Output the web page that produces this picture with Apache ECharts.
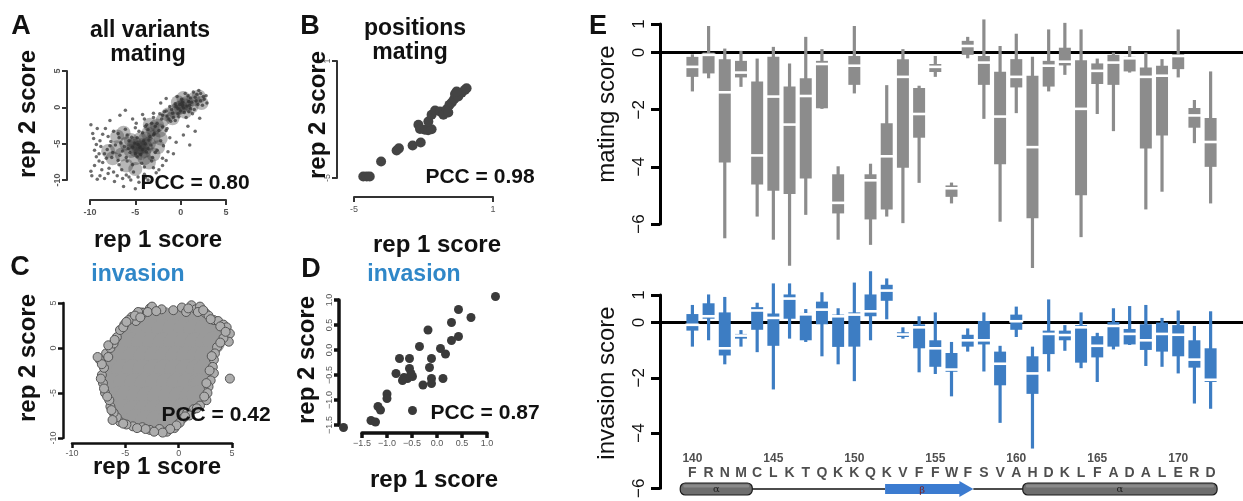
<!DOCTYPE html>
<html>
<head>
<meta charset="utf-8">
<script src="https://cdn.jsdelivr.net/npm/echarts@6/dist/echarts.min.js"></script>
<style>
html,body{margin:0;padding:0;background:#fff}
#chart{width:1243px;height:501px}
</style>
</head>
<body>
<div id="chart"></div>
<script>
var FONT = '"Liberation Sans", Arial, Helvetica, sans-serif';
var BLUE = '#3d7dc3';
var GREY = '#8c8c8c';

// panel A: all variants, mating (rep1, rep2)
var aHaze = [[0,0],[0.7,0.6],[-0.7,-0.5],[1.4,1.1],[-1.4,-1.0],[0.5,-0.6],[-0.3,0.7],[2.0,1.5],[1.2,0.1],[-2.0,-1.8],[-0.9,-1.5],[0.3,1.3],[2.3,0.6],
  [-2.6,-2.5],[-3.1,-3.0],[-2.3,-3.2],[-3.6,-3.6],[-3.9,-4.3],[-3.0,-4.1],[-3.4,-2.4],
  [-4.5,-5.5],[-5.0,-5.0],[-4.0,-6.0],[-5.5,-6.0],[-3.5,-5.0],[-6.0,-5.0],[-5.0,-7.0],[-4.0,-7.0],[-6.5,-6.5],[-7.0,-5.5],[-3.0,-6.5],[-5.5,-4.5],[-4.5,-4.4],[-7.5,-7.0],[-6.0,-8.0],[-8.0,-6.0],[-3.5,-7.6],[-2.5,-5.5],[-5.0,-8.5],[-7.0,-4.0],[-2.2,-4.3],[-6.3,-3.5],
  [-4.6,-5.6],[-4.9,-5.9],[-4.2,-5.2],[-5.2,-5.3],[-4.4,-6.3],[-3.8,-5.5],[-0.2,-0.1],[0.4,0.3]];
var aPoints = [[0.2,0.3],[0.9,0.8],[1.6,1.4],[2.2,1.9],[2.6,1.1],[1.9,0.4],[1.1,-0.2],[0.4,-0.7],[-0.3,-0.2],[-0.9,-0.8],[-1.5,-1.2],[-2.1,-1.6],[-0.6,0.5],[0.1,1.1],[0.8,1.6],[1.4,2.1],[2.0,2.3],[2.8,1.6],[2.4,0.3],[1.3,-0.9],[0.6,-1.4],[-0.2,-1.3],[-1.1,-1.9],[-1.8,-0.6],[-1.2,0.1],[-0.4,1.5],[0.5,1.9],[1.7,0.9],[2.9,0.6],[0.0,-0.5],[-2.6,-2.2],[-2.3,-0.9],[1.0,0.3],[-0.8,-1.4],
  [0.3,-0.1],[-0.5,0.1],[0.7,0.2],[1.2,0.7],[1.8,1.8],[2.5,1.5],[0.2,0.7],[-0.1,0.4],[-1.0,-0.3],[-1.6,-0.5],[1.5,-0.3],[0.9,-0.6],[-0.3,-0.9],[2.2,0.9],[1.1,1.3],[-2.0,-1.1],[-1.3,-1.6],[-0.6,-1.8],
  [-2.8,-2.6],[-3.2,-2.2],[-3.6,-3.1],[-2.9,-3.6],[-2.4,-3.2],[-3.9,-2.6],[-3.4,-4.0],[-4.2,-3.5],[-2.0,-2.7],[-4.0,-1.6],[-3.0,-1.4],[-1.6,-3.2],
  [-4.5,-5.5],[-5.1,-4.9],[-3.8,-6.1],[-5.6,-6.2],[-4.1,-4.6],[-4.8,-6.8],[-6.2,-5.4],[-5.4,-4.1],[-3.3,-5.2],[-6.7,-6.6],[-7.2,-5.2],[-5.9,-7.4],[-4.3,-7.7],[-3.1,-6.9],[-2.6,-5.9],[-2.2,-4.6],[-6.8,-4.2],[-7.6,-6.9],[-8.1,-5.8],[-8.6,-7.6],[-7.9,-8.4],[-6.5,-8.6],[-5.2,-8.9],[-4.0,-9.2],[-9.0,-6.4],[-9.5,-8.0],[-9.8,-9.4],[-8.9,-4.6],[-9.7,-3.6],[-7.4,-3.3],[-6.1,-3.0],[-5.0,-2.8],[-9.9,-2.4],[-8.3,-2.9],[-7.0,-9.4],[-3.0,-8.3],[-2.0,-7.0],[-1.4,-6.1],[-0.8,-6.4],[-1.2,-4.2],[-5.7,-9.6],[-4.6,-10.3],[-6.3,-10.9],[-5.0,-11.2],[-8.4,-9.8],[-9.9,-8.8],[-3.6,-10.0],
  [-4.7,-5.1],[-4.2,-5.8],[-5.3,-5.5],[-3.9,-5.0],[-5.0,-6.4],[-4.4,-6.5],[-5.8,-5.7],[-3.6,-5.7],[-6.4,-6.0],[-5.7,-4.6],[-4.8,-4.2],[-3.5,-4.5],[-6.9,-7.3],[-7.5,-6.2],[-8.2,-7.0],[-6.0,-6.9],[-4.0,-8.2],[-5.3,-7.9],[-6.8,-7.9],[-3.2,-7.4],[-2.8,-6.2],[-7.7,-4.7],[-8.8,-5.4],[-9.3,-6.8],[-9.6,-4.3],[-8.0,-9.1],[-6.0,-9.3],[-4.7,-9.6],[-2.4,-8.6],[-1.9,-5.3],[-5.9,-3.8],[-6.6,-4.9],[-3.0,-3.8],[-4.6,-3.3],[-9.2,-9.9],[-7.3,-10.2],
  [-8.6,-3.7],[-9.3,-5.1],[-8.4,-6.4],[-9.0,-7.4],[-8.7,-8.6],[-7.4,-8.9],[-6.4,-9.8],[-7.8,-5.3],[-9.5,-5.9],[-8.9,-9.4],[-5.5,-10.0],[-3.9,-9.7],[-2.7,-9.0],[-2.0,-8.0],[-1.6,-7.3],[-6.9,-3.6],[-8.0,-4.0],[-9.2,-2.9],
  [-6.1,-0.4],[-6.7,-1.1],[-4.9,-2.2],[-3.75,-2.4],[0.3,-3.8],[1.6,-3.3],[2.1,-1.5],[-1.5,-2.9],[-3.0,-0.8],[-4.2,-1.0],[-5.3,-1.6],[0.8,-2.6],[-0.5,-4.8],[1.0,-5.2],[-7.8,-1.8],[-2.2,0.6],[-1.6,1.2]];

// panel B: positions, mating
var bPoints = [[-4.6,-4.92],[-4.45,-4.92],[-4.32,-4.92],[-3.83,-4.15],[-3.16,-3.59],[-3.06,-3.48],[-2.47,-3.33],[-2.12,-3.18],[-2.22,-2.27],[-2.15,-2.49],[-1.94,-2.53],[-1.8,-2.55],[-1.65,-2.5],[-1.79,-2.1],[-1.65,-1.76],[-1.5,-1.54],[-1.29,-1.59],[-1.14,-1.76],[-1.0,-1.47],[-0.88,-1.25],[-0.78,-1.13],[-0.93,-1.64],[-0.68,-0.96],[-0.64,-0.69],[-0.5,-0.82],[-0.35,-0.62],[-0.21,-0.48],[-0.14,-0.4],[-0.57,-0.57]];

// panel C: all variants, invasion (outline circles + dense body)
var cEdge = [[-4.4,3.45],[-4.0,3.0],[-3.3,3.9],[-2.7,4.4],[-2.5,4.6],[-1.6,4.3],[-0.5,4.2],[0.3,4.5],[0.7,4.0],[1.2,4.75],[1.6,4.3],[2.0,4.6],[2.5,3.9],[2.8,3.6],[3.3,3.1],[3.7,3.0],[4.2,2.6],[4.5,2.3],[4.8,1.6],[4.7,0.7],[4.2,1.1],[3.6,0.1],[3.4,-0.6],[3.3,-1.3],[3.2,-2.1],[3.3,-2.8],[3.0,-3.6],[2.8,-4.3],[2.7,-5.0],[2.6,-5.8],[2.0,-6.4],[1.4,-6.8],[0.8,-7.2],[0.4,-7.8],[0.1,-8.3],[-0.4,-8.9],[-1.1,-9.3],[-1.8,-9.0],[-2.7,-9.1],[-3.4,-8.8],[-4.3,-8.7],[-4.9,-8.5],[-5.5,-8.2],[-5.8,-7.7],[-6.1,-7.2],[-6.4,-6.5],[-6.5,-5.8],[-6.9,-5.0],[-7.1,-3.9],[-7.2,-3.0],[-7.0,-2.2],[-7.4,-1.3],[-6.8,-0.6],[-6.4,0.0],[-6.1,0.5],[-5.8,1.2],[-5.5,2.0],[-5.1,2.6],[-4.7,3.1],[4.8,-3.4],[-3.8,4.0],[1.0,-7.5],[-6.2,-8.0],
  [-4.1,3.6],[-3.6,3.4],[-2.9,4.0],[-2.1,4.1],[0.9,4.4],[1.8,4.0],[2.3,4.2],[3.0,3.2],[3.9,2.4],[4.4,1.8],[3.9,0.6],[3.1,-0.9],[2.9,-2.5],[2.6,-3.9],[2.4,-5.4],[1.7,-6.7],[0.6,-7.6],[-0.2,-8.6],[-0.8,-9.0],[-1.5,-9.4],[-2.3,-9.3],[-3.1,-9.0],[-3.9,-8.9],[-5.2,-8.4],[-6.3,-6.9],[-6.7,-5.4],[-7.0,-4.5],[-7.3,-3.4],[-7.2,-1.8],[-6.6,-1.0],[-6.6,0.3],[-6.0,0.9],[-5.2,2.3],[-4.9,2.9],[-7.6,-1.0]];
var cFill = [[-3.5,3.3],[-2.5,3.5],[-1.5,3.4],[-0.5,3.3],[0.5,3.4],[1.5,3.4],[2.3,3.0],
  [-4.3,2],[-3.5,2],[-2.5,2],[-1.5,2],[-0.5,2],[0.5,2],[1.5,2],[2.5,2],[3.4,1.8],
  [-5.2,0.5],[-4.4,0.5],[-3.4,0.5],[-2.4,0.5],[-1.4,0.5],[-0.4,0.5],[0.6,0.5],[1.6,0.5],[2.6,0.5],[3.3,0.6],
  [-6.0,-1],[-5.2,-1],[-4.2,-1],[-3.2,-1],[-2.2,-1],[-1.2,-1],[-0.2,-1],[0.8,-1],[1.8,-1],[2.5,-1],
  [-6.2,-2.5],[-5.3,-2.5],[-4.3,-2.5],[-3.3,-2.5],[-2.3,-2.5],[-1.3,-2.5],[-0.3,-2.5],[0.7,-2.5],[1.7,-2.5],[2.4,-2.5],
  [-6.0,-4],[-5.1,-4],[-4.1,-4],[-3.1,-4],[-2.1,-4],[-1.1,-4],[-0.1,-4],[0.9,-4],[1.9,-4],[2.1,-4.2],
  [-5.7,-5.5],[-4.9,-5.5],[-3.9,-5.5],[-2.9,-5.5],[-1.9,-5.5],[-0.9,-5.5],[0.1,-5.5],[1.1,-5.5],[1.8,-5.4],
  [-5.1,-6.9],[-4.2,-7],[-3.2,-7],[-2.2,-7],[-1.2,-7],[-0.2,-7],[0.4,-6.8],
  [-4.0,-8.0],[-3.0,-8.1],[-2.0,-8.1],[-1.0,-8.0]];

// panel D: positions, invasion
var dPoints = [[1.17,1.07],[0.43,0.81],[0.68,0.65],[0.29,0.55],[0.43,0.27],[0.29,0.19],[-0.18,0.4],[-0.35,0.07],[0.07,0.03],[0.17,-0.08],[-0.75,-0.17],[-0.55,-0.17],[-0.11,-0.17],[-0.55,-0.37],[-0.15,-0.35],[-0.82,-0.47],[-0.66,-0.55],[-0.59,-0.57],[-0.49,-0.53],[-0.52,-0.47],[-0.69,-0.61],[-0.11,-0.57],[0.12,-0.57],[-0.11,-0.67],[-0.28,-0.7],[-1.0,-0.88],[-1.0,-0.97],[-1.18,-1.13],[-1.13,-1.2],[-0.49,-1.21],[-1.32,-1.41],[-1.23,-1.44],[-1.87,-1.55]];

// panel E: per position [min, q1, median, q3, max]
var positions = [140,141,142,143,144,145,146,147,148,149,150,151,152,153,154,155,156,157,158,159,160,161,162,163,164,165,166,167,168,169,170,171,172];
var residues = ['F','R','N','M','C','L','K','T','Q','K','K','Q','K','V','F','F','W','F','S','V','A','H','D','K','L','F','A','D','A','L','E','R','D'];
var residueTicks = [140,145,150,155,160,165,170];
var matingStats = [
  [-1.36,-0.85,-0.5,-0.15,-0.06],[-0.9,-0.73,-0.08,0.0,0.93],[-6.5,-3.85,-1.39,-0.23,0.14],[-1.2,-0.87,-0.7,-0.29,0.06],
  [-5.74,-4.62,-3.6,-1.01,-0.21],[-6.55,-4.84,-1.54,-0.15,0.2],[-7.46,-4.95,-2.52,-1.19,-0.38],[-5.68,-4.41,-1.52,-0.9,0.55],
  [-1.97,-1.95,-0.4,-0.29,0.12],[-6.55,-5.63,-5.26,-4.26,-3.98],[-1.43,-1.13,-0.46,-0.12,0.93],[-6.73,-5.84,-4.47,-4.26,-3.89],
  [-5.74,-5.49,-3.63,-2.47,-1.14],[-5.97,-4.03,-0.85,-0.23,0.12],[-4.56,-2.98,-2.15,-1.24,-1.16],[-0.85,-0.68,-0.5,-0.4,-0.12],
  [-5.28,-5.05,-4.75,-4.65,-4.55],[-0.2,-0.08,0.23,0.41,0.55],[-2.32,-1.13,-0.35,-0.12,1.16],[-5.92,-3.91,-2.24,-0.67,0.23],
  [-2.12,-1.22,-0.85,-0.23,0.66],[-7.54,-5.8,-3.31,-0.81,-0.15],[-1.36,-1.19,-0.46,-0.29,0.81],[-0.78,-0.45,-0.32,0.17,1.04],
  [-6.46,-4.99,-1.97,-0.27,0.81],[-2.15,-1.1,-0.64,-0.38,-0.21],[-2.75,-1.13,-0.35,-0.08,0.0],[-0.7,-0.66,-0.2,-0.15,0.23],
  [-5.49,-3.36,-0.85,-0.52,0.0],[-4.87,-2.9,-0.81,-0.46,-0.23],[-0.87,-0.58,-0.12,-0.05,0.81],[-3.17,-2.63,-2.2,-1.94,-1.66],
  [-5.28,-4.0,-3.13,-2.29,-0.66]];
var invasionStats = [
  [-0.87,-0.29,-0.08,0.31,0.64],[-0.64,0.14,0.23,0.7,1.02],[-1.51,-1.19,-0.93,0.37,0.93],[-0.87,-0.58,-0.47,-0.41,-0.27],
  [-1.07,-0.26,0.44,0.56,0.72],[-2.42,-0.84,0.17,0.33,1.42],[-0.58,0.14,0.87,1.02,1.42],[-0.7,-0.64,0.3,0.35,0.49],
  [-1.22,-0.06,0.47,0.76,1.1],[-1.51,-0.88,0.23,0.29,0.52],[-2.12,-0.87,0.29,0.37,1.45],[-0.64,0.23,0.41,1.02,1.86],
  [0.12,0.79,1.16,1.37,1.6],[-0.58,-0.52,-0.43,-0.35,-0.17],[-1.8,-0.93,-0.17,-0.06,0.23],[-1.86,-1.6,-0.93,-0.64,0.37],
  [-2.67,-1.78,-1.7,-1.1,-0.7],[-1.05,-0.87,-0.64,-0.44,-0.21],[-1.77,-0.79,-0.64,0.06,0.37],[-3.63,-2.27,-1.49,-1.05,-0.84],
  [-0.52,-0.26,0.05,0.29,0.58],[-4.56,-2.58,-1.84,-1.22,-0.87],[-1.77,-1.14,-0.41,-0.29,0.84],[-1.02,-0.64,-0.45,-0.29,-0.09],
  [-1.65,-1.45,-0.17,-0.09,0.37],[-2.15,-1.26,-0.84,-0.49,-0.37],[-0.97,-0.87,-0.12,0.02,0.52],[-0.81,-0.79,-0.41,-0.23,0.6],
  [-1.57,-0.99,-0.64,-0.06,0.64],[-1.6,-1.05,-0.41,0.0,0.17],[-1.84,-1.22,-0.44,-0.09,0.44],[-2.93,-1.63,-1.34,-0.64,-0.12],
  [-3.12,-2.15,-2.07,-0.93,0.41]];
// secondary structure [from, to, kind]
var ssSegments = [[143.7,151.9,'coil'],[157.35,160.4,'coil'],[139.25,143.7,'helix'],[151.9,157.35,'strand'],[160.4,172.4,'helix']];

var SEQ_NUM_ROW = 4.1, SEQ_RES_ROW = 2.7, SEQ_SS_ROW = 1.1;

function hy(v) { return String(v); }
function minus(v) { return String(v).replace('-', '\u2212'); }
function minus1(v) { return v.toFixed(1).replace('-', '\u2212'); }

function rAxis(grid, min, max, offset, ticks, o) {
  o = o || {};
  var col = o.color || '#333', lw = o.lw || 2;
  return {
    gridIndex: grid, type: 'value', min: min, max: max, offset: offset,
    axisLine: {onZero: false, lineStyle: {color: col, width: lw}},
    axisTick: {customValues: ticks, length: o.tick || 5, lineStyle: {color: col, width: lw}},
    axisLabel: {customValues: ticks, rotate: o.rotate || 0, fontSize: o.fs || 9, color: o.lc || '#555',
      fontFamily: FONT, fontWeight: o.bold ? 'bold' : 'normal', margin: o.margin || 5, formatter: o.fmt || hy},
    splitLine: {show: false}
  };
}

function txt(x, y, s, size, o) {
  o = o || {};
  return {type: 'text', x: x, y: y, z: 100, rotation: o.rot || 0, silent: true,
    style: {text: s, fill: o.color || '#111', fontFamily: FONT, fontSize: size,
      fontWeight: o.weight || 'bold', align: 'center', verticalAlign: 'middle'}};
}

function boxRender(fill) {
  return function (params, api) {
    var x = api.value(0);
    var lo = api.coord([x, api.value(1)]);
    var q1 = api.coord([x, api.value(2)]);
    var md = api.coord([x, api.value(3)]);
    var q3 = api.coord([x, api.value(4)]);
    var hi = api.coord([x, api.value(5)]);
    var bw = api.size([0.74, 0])[0];
    var ww = 3.2;
    return {type: 'group', children: [
      {type: 'rect', shape: {x: lo[0] - ww / 2, y: hi[1], width: ww, height: lo[1] - hi[1]}, style: {fill: fill}},
      {type: 'rect', shape: {x: lo[0] - bw / 2, y: q3[1], width: bw, height: Math.max(q1[1] - q3[1], 1)}, style: {fill: fill}},
      {type: 'rect', shape: {x: lo[0] - bw / 2 - 1, y: md[1] - 1.3, width: bw + 2, height: 2.6}, style: {fill: '#fff'}}
    ]};
  };
}

function ssRender(params, api) {
  var kind = ssSegments[params.dataIndex][2];
  var a = api.coord([api.value(0), SEQ_SS_ROW]);
  var b = api.coord([api.value(1), SEQ_SS_ROW]);
  var y = a[1];
  if (kind === 'coil') {
    return {type: 'line', shape: {x1: a[0], y1: y, x2: b[0], y2: y}, style: {stroke: '#111', lineWidth: 1.5}};
  }
  if (kind === 'helix') {
    return {type: 'group', children: [
      {type: 'rect', shape: {x: a[0], y: y - 6, width: b[0] - a[0], height: 12, r: 5}, style: {fill: '#6e6e6e', stroke: '#1a1a1a', lineWidth: 1.2}},
      {type: 'rect', shape: {x: a[0] + 3, y: y - 4.5, width: b[0] - a[0] - 6, height: 3, r: 1.5}, style: {fill: '#8a8a8a'}},
      {type: 'text', style: {x: (a[0] + b[0]) / 2, y: y, text: '\u03b1', fontSize: 10, fontFamily: 'DejaVu Serif, serif', fill: '#222', align: 'center', verticalAlign: 'middle'}}
    ]};
  }
  var head = 14;
  return {type: 'group', children: [
    {type: 'polygon', shape: {points: [[a[0], y - 5], [b[0] - head, y - 5], [b[0] - head, y - 8], [b[0], y], [b[0] - head, y + 8], [b[0] - head, y + 5], [a[0], y + 5]]}, style: {fill: '#3b7bd0'}},
    {type: 'text', style: {x: (a[0] + b[0] - head) / 2, y: y + 1, text: '\u03b2', fontSize: 10, fontFamily: 'DejaVu Serif, serif', fill: '#7a1f1f', align: 'center', verticalAlign: 'middle'}}
  ]};
}

function withPos(stats) {
  return stats.map(function (s, i) { return [positions[i]].concat(s); });
}

var myChart = echarts.init(document.getElementById('chart'));

var option = {
  backgroundColor: '#fff',
  animation: false,
  grid: [
    {left: 90, top: 71, width: 136, height: 109},
    {left: 354, top: 61, width: 139, height: 117},
    {left: 72, top: 303, width: 160, height: 135},
    {left: 362, top: 300, width: 125, height: 125},
    {left: 660, top: 24, width: 583, height: 200},
    {left: 660, top: 295, width: 583, height: 200},
    {left: 660, top: 450, width: 583, height: 50}
  ],
  xAxis: [
    rAxis(0, -10, 5, 20, [-10, -5, 0, 5], {bold: true, margin: 8}),
    rAxis(1, -5, 1, 19, [-5, 1], {margin: 8}),
    rAxis(2, -10, 5, 5, [-10, -5, 0, 5], {color: '#111', lw: 2.5, margin: 6}),
    rAxis(3, -1.5, 1.0, 8, [-1.5, -1.0, -0.5, 0, 0.5, 1.0], {color: '#111', lw: 3.5, fmt: minus1, margin: 6}),
    {gridIndex: 4, type: 'value', min: 138, max: 174, axisLine: {onZero: true, lineStyle: {color: '#000', width: 3}}, axisTick: {show: false}, axisLabel: {show: false}, splitLine: {show: false}},
    {gridIndex: 5, type: 'value', min: 138, max: 174, axisLine: {onZero: true, lineStyle: {color: '#000', width: 3}}, axisTick: {show: false}, axisLabel: {show: false}, splitLine: {show: false}},
    {gridIndex: 6, type: 'value', min: 138, max: 174, show: false}
  ],
  yAxis: [
    rAxis(0, -10, 5, 23, [-10, -5, 0, 5], {rotate: 90, bold: true}),
    rAxis(1, -5, 1, 17, [-5, 1], {rotate: 90}),
    rAxis(2, -10, 5, 9, [-10, -5, 0, 5], {rotate: 90, color: '#111', lw: 2.5}),
    rAxis(3, -1.5, 1.0, 23, [-1.5, -1.0, -0.5, 0, 0.5, 1.0], {rotate: 90, color: '#111', lw: 3.5, fmt: minus1}),
    rAxis(4, -6, 1, 0, [-6, -4, -2, 0, 1], {rotate: 90, color: '#000', lw: 3, tick: 9, fs: 17, lc: '#111', fmt: minus, margin: 12}),
    rAxis(5, -6, 1, 0, [-6, -4, -2, 0, 1], {rotate: 90, color: '#000', lw: 3, tick: 9, fs: 17, lc: '#111', fmt: minus, margin: 12}),
    {gridIndex: 6, type: 'value', min: 0, max: 5, show: false}
  ],
  series: [
    {type: 'scatter', xAxisIndex: 0, yAxisIndex: 0, data: aHaze, symbolSize: 14, clip: false, silent: true, itemStyle: {color: 'rgba(55,55,55,0.36)', opacity: 1}},
    {type: 'scatter', xAxisIndex: 0, yAxisIndex: 0, data: aPoints, symbolSize: 3.5, clip: false, silent: true, itemStyle: {color: 'rgba(45,45,45,0.7)', opacity: 1}},
    {type: 'scatter', xAxisIndex: 1, yAxisIndex: 1, data: bPoints, symbolSize: 10, clip: false, silent: true, itemStyle: {color: '#444', opacity: 1}},
    {type: 'scatter', xAxisIndex: 2, yAxisIndex: 2, data: cFill, symbolSize: 22, clip: false, silent: true, itemStyle: {color: '#9a9a9a', opacity: 1}},
    {type: 'scatter', xAxisIndex: 2, yAxisIndex: 2, data: cEdge, symbolSize: 9, clip: false, silent: true, itemStyle: {color: '#adadad', borderColor: '#555', borderWidth: 1, opacity: 1}},
    {type: 'scatter', xAxisIndex: 3, yAxisIndex: 3, data: dPoints, symbolSize: 9, clip: false, silent: true, itemStyle: {color: '#3a3a3a', opacity: 1}},
    {type: 'custom', xAxisIndex: 4, yAxisIndex: 4, data: withPos(matingStats), renderItem: boxRender(GREY), clip: false, silent: true, encode: {x: 0, y: [1, 2, 3, 4, 5]}},
    {type: 'custom', xAxisIndex: 5, yAxisIndex: 5, data: withPos(invasionStats), renderItem: boxRender(BLUE), clip: false, silent: true, encode: {x: 0, y: [1, 2, 3, 4, 5]}},
    {type: 'custom', xAxisIndex: 6, yAxisIndex: 6, data: ssSegments.map(function (s) { return [s[0], s[1]]; }), renderItem: ssRender, silent: true, encode: {x: [0, 1]}},
    {type: 'scatter', xAxisIndex: 6, yAxisIndex: 6, symbolSize: 1, silent: true, itemStyle: {color: 'rgba(0,0,0,0)'},
      data: residueTicks.map(function (p) { return {value: [p, SEQ_NUM_ROW], name: String(p)}; }),
      label: {show: true, position: 'inside', formatter: '{b}', fontSize: 12, fontWeight: 'bold', color: '#222', fontFamily: FONT}},
    {type: 'scatter', xAxisIndex: 6, yAxisIndex: 6, symbolSize: 1, silent: true, itemStyle: {color: 'rgba(0,0,0,0)'},
      data: positions.map(function (p, i) { return {value: [p, SEQ_RES_ROW], name: residues[i]}; }),
      label: {show: true, position: 'inside', formatter: '{b}', fontSize: 14, fontWeight: 'bold', color: '#222', fontFamily: FONT}}
  ],
  graphic: [
    txt(21, 27, 'A', 27), txt(310, 27, 'B', 27), txt(20, 268, 'C', 27), txt(311, 270, 'D', 27), txt(598, 27, 'E', 27),
    txt(150, 31, 'all variants', 23), txt(148, 55, 'mating', 23),
    txt(415, 29, 'positions', 23), txt(410, 53, 'mating', 23),
    txt(138, 275, 'invasion', 23, {color: '#2f87c8'}), txt(414, 275, 'invasion', 23, {color: '#2f87c8'}),
    txt(28, 114, 'rep 2 score', 24, {rot: Math.PI / 2}), txt(318, 115, 'rep 2 score', 24, {rot: Math.PI / 2}),
    txt(28, 358, 'rep 2 score', 24, {rot: Math.PI / 2}), txt(307, 360, 'rep 2 score', 24, {rot: Math.PI / 2}),
    txt(158, 240, 'rep 1 score', 24), txt(437, 245, 'rep 1 score', 24), txt(157, 467, 'rep 1 score', 24), txt(434, 480, 'rep 1 score', 24),
    txt(195, 183, 'PCC = 0.80', 21), txt(480, 177, 'PCC = 0.98', 21), txt(216, 415, 'PCC = 0.42', 21), txt(485, 413, 'PCC = 0.87', 21),
    txt(607, 114, 'mating score', 24, {rot: Math.PI / 2, weight: 'normal'}),
    txt(607, 383, 'invasion score', 24, {rot: Math.PI / 2, weight: 'normal'})
  ]
};

myChart.setOption(option);
</script>
</body>
</html>
